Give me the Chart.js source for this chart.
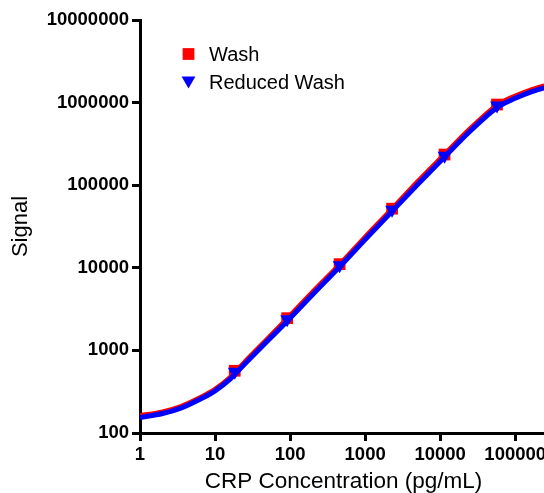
<!DOCTYPE html>
<html>
<head>
<meta charset="utf-8">
<script src="https://cdn.jsdelivr.net/npm/chart.js@4/dist/chart.umd.min.js"></script>
<style>
  html, body { margin: 0; padding: 0; background: #fff; }
  #wrap { width: 544px; height: 493px; overflow: hidden; }
  canvas { display: block; }
</style>
</head>
<body>
<div id="wrap"><canvas id="crpChart" width="600" height="493"></canvas></div>
<script>
// standards (pg/mL) and measured signal
const concentrations = [18.3, 91.4, 457, 2286, 11430, 57150];
const washSignal = [567, 2455, 11070, 52000, 235000, 947000];
const reducedWashSignal = [550, 2380, 10750, 50500, 228000, 920000];

// fitted curves
const curveConc = [1, 2, 3.5, 6.3, 10, 16, 25, 40, 91.4, 200, 457, 1000, 2286, 5000, 11430, 25000, 57150, 100000, 160000, 265000];
const washFit = [162, 180, 209, 267, 338, 472, 725, 1120, 2420, 5100, 10900, 23500, 51500, 110000, 235000, 480000, 930000, 1200000, 1420000, 1630000];
const reducedWashFit = [154, 172, 200, 256, 324, 452, 690, 1065, 2260, 4750, 10300, 22000, 48500, 102000, 220000, 450000, 870000, 1130000, 1340000, 1540000];

const xTicks = [1, 10, 100, 1000, 10000, 100000];
const yTicks = [100, 1000, 10000, 100000, 1000000, 10000000];
const xMax = 265000;

const RED = '#ff0000';
const BLUE = '#0000ff';
const FONT = 'Liberation Sans, Arial, sans-serif';

const toXY = (xs, ys) => xs.map((x, i) => ({ x, y: ys[i] }));

// legend drawn inside the plot, top left
const insideLegend = {
  id: 'insideLegend',
  afterDraw(chart) {
    const ctx = chart.ctx;
    const items = chart.data.datasets.filter(d => d.inLegend);
    const rows = [{ my: 54, ty: 55 }, { my: 80.5, ty: 83.5 }];
    ctx.save();
    items.forEach((d, i) => {
      ctx.fillStyle = d.backgroundColor;
      ctx.strokeStyle = d.backgroundColor;
      Chart.helpers.drawPoint(ctx, {
        pointStyle: d.pointStyle,
        radius: d.pointRadius,
        rotation: d.pointRotation || 0,
        borderWidth: 0
      }, 188.5, rows[i].my);
      ctx.fillStyle = '#000';
      ctx.font = '20px ' + FONT;
      ctx.textBaseline = 'middle';
      ctx.textAlign = 'left';
      ctx.fillText(d.label, 209, rows[i].ty);
    });
    ctx.restore();
  }
};

const axisStyle = (ticks) => ({
  type: 'logarithmic',
  afterBuildTicks: s => { s.ticks = ticks.map(v => ({ value: v })); },
  ticks: {
    color: '#000',
    font: { family: FONT, size: 18.5, weight: 'bold' },
    padding: 3,
    autoSkip: false,
    maxRotation: 0,
    callback: v => String(v)
  },
  grid: {
    display: true,
    drawOnChartArea: false,
    drawTicks: true,
    tickLength: 8,
    tickWidth: 3,
    tickColor: '#000'
  },
  border: { display: true, color: '#000', width: 3 }
});

const xAxis = axisStyle(xTicks);
xAxis.min = 1;
xAxis.max = xMax;
xAxis.afterFit = s => { s.height = 60; };
xAxis.title = {
  display: true,
  text: 'CRP Concentration (pg/mL)',
  color: '#000',
  font: { family: FONT, size: 22.5, lineHeight: 1 },
  padding: { top: 0, bottom: 0 }
};

const yAxis = axisStyle(yTicks);
yAxis.min = 100;
yAxis.max = 10000000;
yAxis.afterFit = s => { s.width = 140; };
yAxis.title = {
  display: true,
  text: 'Signal',
  color: '#000',
  font: { family: FONT, size: 22, lineHeight: 1 },
  padding: { top: 10, bottom: 0 }
};

new Chart(document.getElementById('crpChart'), {
  type: 'scatter',
  data: {
    datasets: [
      {
        label: 'Wash',
        inLegend: true,
        data: toXY(concentrations, washSignal),
        pointStyle: 'rect',
        pointRadius: 8.3,
        pointBorderWidth: 0,
        backgroundColor: RED,
        borderColor: RED,
        order: 2
      },
      {
        label: 'Reduced Wash',
        inLegend: true,
        data: toXY(concentrations, reducedWashSignal),
        pointStyle: 'triangle',
        pointRotation: 180,
        pointRadius: 8,
        pointBorderWidth: 0,
        backgroundColor: BLUE,
        borderColor: BLUE,
        order: 0
      },
      {
        label: 'Wash fit',
        data: toXY(curveConc, washFit),
        showLine: true,
        borderColor: RED,
        borderWidth: 5,
        pointRadius: 0,
        cubicInterpolationMode: 'monotone',
        order: 3
      },
      {
        label: 'Reduced Wash fit',
        data: toXY(curveConc, reducedWashFit),
        showLine: true,
        borderColor: BLUE,
        borderWidth: 5,
        pointRadius: 0,
        cubicInterpolationMode: 'monotone',
        order: 1
      }
    ]
  },
  options: {
    responsive: false,
    animation: false,
    events: [],
    layout: { autoPadding: false, padding: { top: 20, left: 0, right: 53, bottom: 0 } },
    plugins: {
      legend: { display: false },
      tooltip: { enabled: false }
    },
    scales: { x: xAxis, y: yAxis }
  },
  plugins: [insideLegend]
});
</script>
</body>
</html>
